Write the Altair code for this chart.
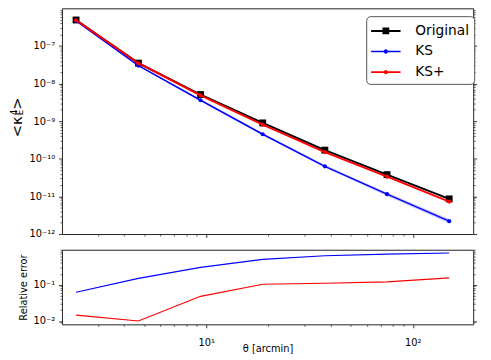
import altair as alt
import pandas as pd

# ---------------- data ----------------
theta = [2.34, 4.69, 9.38, 18.75, 37.5, 75.0, 150.0]
series_names = ["Original", "KS", "KS+"]
series_colors = ["#000000", "#0000ff", "#ff0000"]

kappa_original = [4.9e-7, 3.5e-8, 5.1e-9, 9.0e-10, 1.7e-10, 3.8e-11, 8.6e-12]
kappa_ks = [4.6e-7, 3.0e-8, 3.6e-9, 4.5e-10, 6.3e-11, 1.15e-11, 2.2e-12]
kappa_ks_plus = [4.83e-7, 3.47e-8, 4.85e-9, 8.1e-10, 1.51e-10, 3.35e-11, 7.3e-12]
ks_band_low = [4.5e-7, 2.9e-8, 3.45e-9, 4.25e-10, 5.8e-11, 1.03e-11, 1.9e-12]
ks_band_high = [4.7e-7, 3.1e-8, 3.75e-9, 4.75e-10, 6.8e-11, 1.27e-11, 2.5e-12]

relerr_ks = [0.062, 0.15, 0.30, 0.50, 0.63, 0.70, 0.75]
relerr_ks_plus = [0.0145, 0.010, 0.048, 0.103, 0.11, 0.12, 0.155]

# axis tick values (decades labelled, minor ticks unlabelled)
x_ticks = [m * 10 ** e for e in (0, 1) for m in range(1, 10)][2:] + [100]
y_top_ticks = [m * 10.0 ** e for e in range(-12, -6) for m in range(1, 10)]
y_bot_ticks = [m * 10.0 ** e for e in (-3, -2, -1) for m in range(1, 10)]
y_bot_ticks = [v for v in y_bot_ticks if 0.0081 <= v <= 0.92]

FONT = "DejaVu Sans"

top_df = pd.DataFrame({
    "theta": theta * 3,
    "value": kappa_original + kappa_ks + kappa_ks_plus,
    "series": [s for s in series_names for _ in theta],
})
band_df = pd.DataFrame({"theta": theta, "lo": ks_band_low, "hi": ks_band_high})
err_df = pd.DataFrame({
    "theta": theta * 2,
    "value": relerr_ks + relerr_ks_plus,
    "series": ["KS"] * len(theta) + ["KS+"] * len(theta),
})

# ---------------- axis helpers ----------------
MAJOR = "abs(log(datum.value)/LN10 - round(log(datum.value)/LN10)) < 0.001"
SUP = {"-": "⁻", "0": "⁰", "1": "¹", "2": "²", "3": "³", "4": "⁴",
       "5": "⁵", "6": "⁶", "7": "⁷", "8": "⁸", "9": "⁹"}
_s = "toString(round(log(datum.value)/LN10))"
for k, v in SUP.items():
    _s = f"replace({_s}, regexp('{k}', 'g'), '{v}')"
LABEL_EXPR = f"({MAJOR}) ? '10' + {_s} : ''"


def log_axis(values, orient, labels=True, title=None, **kw):
    return alt.Axis(
        values=values, orient=orient, labels=labels, labelExpr=LABEL_EXPR,
        tickSize={"condition": {"test": MAJOR, "value": 3.5}, "value": 2},
        tickWidth={"condition": {"test": MAJOR, "value": 0.9}, "value": 0.7},
        labelOverlap=False, labelFlush=False, title=title, **kw)


x_scale = alt.Scale(type="log", domain=[2.0, 196.0], nice=False)
y_top_scale = alt.Scale(type="log", domain=[1e-12, 1e-6], nice=False)
y_bot_scale = alt.Scale(type="log", domain=[0.0081, 0.92], nice=False)

x_top = alt.X("theta:Q", scale=x_scale,
              axis=log_axis(x_ticks, "bottom", labels=False, maxExtent=4, minExtent=0))
y_top_noaxis = alt.Y("value:Q", scale=y_top_scale, axis=None)

W, H_TOP, H_BOT = 419, 230, 76

# ---------------- top panel ----------------
band = alt.Chart(band_df).mark_area(color="#0000ff", opacity=0.2).encode(
    x=x_top,
    y=alt.Y("lo:Q", scale=y_top_scale, axis=None),
    y2="hi:Q",
)

layers = [band]
line_widths = {"Original": 2.0, "KS": 1.5, "KS+": 2.0}
for name, col in zip(series_names, series_colors):
    base = alt.Chart(top_df).transform_filter(alt.datum.series == name)
    yax = (alt.Y("value:Q", scale=y_top_scale,
                 axis=log_axis(y_top_ticks, "left", title=None, labelPadding=4))
           if name == "Original" else y_top_noaxis)
    layers.append(base.mark_line(color=col, strokeWidth=line_widths[name]).encode(x=x_top, y=yax))
    if name == "Original":
        layers.append(base.mark_square(color=col, size=49, opacity=1).encode(x=x_top, y=y_top_noaxis))
    else:
        layers.append(base.mark_circle(color=col, size=18, opacity=1).encode(x=x_top, y=y_top_noaxis))

# right-hand tick axis (no labels)
layers.append(
    alt.Chart(top_df).mark_line(opacity=0).encode(
        x=x_top,
        y=alt.Y("value:Q", scale=y_top_scale,
                axis=log_axis(y_top_ticks, "right", labels=False)),
        detail="series:N",
    )
)

# legend via an invisible layer with custom legend symbols (size 400 -> 10 px per unit)
orig_path = "M-1.5,-0.1H1.5V0.1H-1.5Z M-0.35,-0.35H0.35V0.35H-0.35Z"
ks_path = ("M-1.5,-0.075H1.5V0.075H-1.5Z M0.22,0A0.22,0.22 0 1,1 -0.22,0"
           "A0.22,0.22 0 1,1 0.22,0Z")
ksp_path = ("M-1.5,-0.09H1.5V0.09H-1.5Z M0.22,0A0.22,0.22 0 1,1 -0.22,0"
            "A0.22,0.22 0 1,1 0.22,0Z")
legend = alt.Legend(
    title=None, orient="none", legendX=310, legendY=8,
    labelFont=FONT, labelFontSize=14,
    symbolSize=400, symbolOpacity=1, symbolStrokeWidth=0,
    symbolOffset=5, labelOffset=20,
    strokeColor="#555555", cornerRadius=4, padding=5, fillColor="white",
    rowPadding=4,
)
layers.append(
    alt.Chart(top_df).mark_point(filled=True, opacity=0).encode(
        x=x_top, y=y_top_noaxis,
        color=alt.Color("series:N", sort=series_names,
                        scale=alt.Scale(domain=series_names, range=series_colors),
                        legend=legend),
        shape=alt.Shape("series:N", sort=series_names,
                        scale=alt.Scale(domain=series_names,
                                        range=[orig_path, ks_path, ksp_path]),
                        legend=legend),
    )
)


# y-axis title  < kappa_E^4 >  built from rotated text pieces
def piece(text, x, y, size):
    return alt.Chart(pd.DataFrame({"t": [text]})).mark_text(
        angle=270, font=FONT, fontSize=size, align="center",
        baseline="alphabetic", color="black",
    ).encode(text="t:N", x=alt.value(x), y=alt.value(y))


layers += [
    piece("<", -41, 125, 15),
    piece("κ", -41, 114.5, 15),
    piece("4", -45.5, 106, 9),
    piece("E", -39.5, 106, 9),
    piece(">", -41, 97, 15),
]

top = alt.layer(*layers).resolve_axis(y="independent").properties(width=W, height=H_TOP)

# ---------------- bottom panel ----------------
x_bot = alt.X("theta:Q", scale=x_scale,
              axis=log_axis(x_ticks, "bottom", title="θ [arcmin]",
                            labelPadding=10, titleY=20, titleBaseline="top"))
blayers = []
for name, col in (("KS", "#0000ff"), ("KS+", "#ff0000")):
    yax = (alt.Y("value:Q", scale=y_bot_scale,
                 axis=log_axis(y_bot_ticks, "left", title="Relative error", labelPadding=4))
           if name == "KS" else alt.Y("value:Q", scale=y_bot_scale, axis=None))
    blayers.append(
        alt.Chart(err_df).transform_filter(alt.datum.series == name)
        .mark_line(color=col, strokeWidth=1.2).encode(x=x_bot, y=yax)
    )
blayers.append(
    alt.Chart(err_df).mark_line(opacity=0).encode(
        x=x_bot,
        y=alt.Y("value:Q", scale=y_bot_scale,
                axis=log_axis(y_bot_ticks, "right", labels=False)),
        detail="series:N",
    )
)
bottom = alt.layer(*blayers).resolve_axis(y="independent").properties(width=W, height=H_BOT)

chart = (
    alt.vconcat(top, bottom, spacing=4)
    .properties(padding={"left": 1, "top": -7, "right": 5, "bottom": 2})
    .configure(font=FONT)
    .configure_view(stroke="#222222", strokeWidth=1)
    .configure_axis(
        domain=False, grid=False, labelFont=FONT, titleFont=FONT,
        labelFontSize=10, titleFontSize=10, titleFontWeight="normal",
        tickColor="#222222", labelColor="#000000", titleColor="#000000",
        labelPadding=3, titlePadding=5,
    )
)

chart.save("out.html", embed_options={"renderer": "svg", "actions": False})
